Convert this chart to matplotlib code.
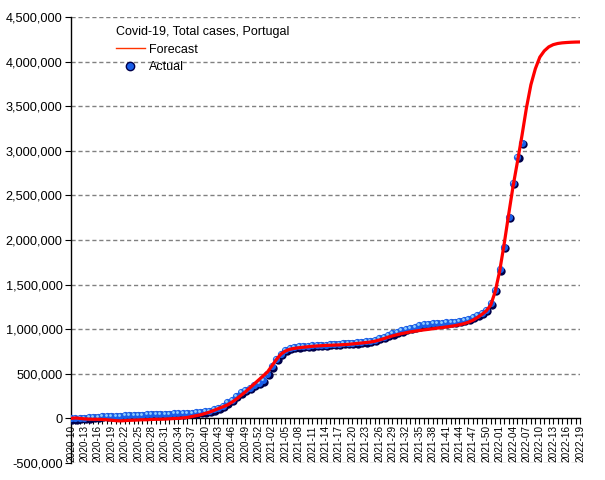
import numpy as np
import matplotlib
matplotlib.use("Agg")
import matplotlib.pyplot as plt
from matplotlib.lines import Line2D
from matplotlib.transforms import offset_copy

plt.rcParams['font.family'] = ['Liberation Sans', 'DejaVu Sans']

# ISO weeks 2020-10 .. 2022-19
weeks = ([f"2020-{w:02d}" for w in range(10, 54)] +
         [f"2021-{w:02d}" for w in range(1, 53)] +
         [f"2022-{w:02d}" for w in range(1, 20)])

# actual total cases (thousands), 2020-10 .. 2022-06
actual = [0, 0, 2, 6, 12, 17, 21, 24, 26, 28,
          29, 31, 33, 35, 37, 40, 42, 44, 47, 49,
          51, 52, 54, 55, 56, 57, 59, 63, 68, 73,
          78, 86, 100, 121, 144, 179, 211, 256, 291, 319,
          344, 372, 397, 427, 497, 582, 669, 726, 765, 786,
          799, 807, 812, 816, 819, 822, 825, 828, 832, 836,
          839, 842, 846, 849, 852, 858, 864, 872, 883, 898,
          915, 934, 953, 969, 986, 1000, 1016, 1030, 1043, 1054,
          1060, 1066, 1070, 1074, 1077, 1081, 1086, 1093, 1103, 1117,
          1135, 1158, 1185, 1214, 1290, 1440, 1670, 1920, 2260, 2640,
          2930, 3090]

# forecast total cases (thousands), 2020-10 .. 2022-19
forecast = [0, 5, 0, -5, -8, -10, -10, -12, -15, -20,
            -25, -28, -25, -22, -20, -18, -15, -15, -12, -10,
            -10, -8, -5, -2, 0, 5, 10, 20, 30, 40,
            55, 70, 90, 110, 130, 150, 180, 215, 255, 295,
            340, 385, 430, 475, 520, 590, 660, 720, 755, 775,
            785, 792, 798, 803, 808, 812, 815, 818, 820, 822,
            824, 827, 830, 835, 840, 845, 850, 856, 865, 878,
            893, 910, 925, 938, 950, 960, 970, 978, 985, 992,
            998, 1005, 1012, 1018, 1025, 1032, 1040, 1050, 1062, 1078,
            1100, 1130, 1165, 1205, 1270, 1420, 1650, 1950, 2280, 2600,
            2880, 3170, 3480, 3740, 3920, 4050, 4120, 4165, 4190, 4203,
            4210, 4214, 4217, 4219, 4220]

x_f = np.arange(len(forecast))
x_a = np.arange(len(actual))
y_f = np.array(forecast) * 1000
y_a = np.array(actual) * 1000

fig = plt.figure(figsize=(6.05, 4.8), dpi=100)
ax = fig.add_axes([71/605, 1 - 463/480, (580 - 71)/605, (463 - 17)/480])

ax.spines['top'].set_visible(False)
ax.spines['right'].set_visible(False)
ax.spines['bottom'].set_position(('data', 0))
ax.spines['bottom'].set_linewidth(1)
ax.spines['left'].set_linewidth(1)

# ball-like markers: shadow, body, highlight
shadow = offset_copy(ax.transData, fig=fig, x=1.2, y=-1.2, units='dots')
light = offset_copy(ax.transData, fig=fig, x=-1, y=1, units='dots')
ax.plot(x_a, y_a, 'o', ms=6, color='#00004a', mec='none', transform=shadow, zorder=3)
ax.plot(x_a, y_a, 'o', ms=5.2, color='#1a5ee8', mec='none', zorder=4)
ax.plot(x_a, y_a, 'o', ms=2, color='#8fd0ff', mec='none', transform=light, zorder=5)

ax.plot(x_f, y_f, color='#ff0000', lw=2.3, zorder=6)

ax.set_xlim(0, len(weeks) - 1)
ax.set_ylim(-500000, 4500000)

yt = np.arange(-500000, 4500001, 500000)
ax.set_yticks(yt)
ax.set_yticklabels([f"{v:,}" for v in yt], fontsize=9.2)
for v in yt:
    if v != 0:
        ax.axhline(v, color='#808080', lw=1, ls=(0, (3, 2)), zorder=1)

ax.set_xticks(x_f)
ax.set_xticklabels([w if i % 3 == 0 else "" for i, w in enumerate(weeks)],
                   rotation=90, fontsize=7.2)
ax.tick_params(axis='x', length=4, width=0.8, pad=1)
ax.tick_params(axis='y', length=4, width=0.8, pad=2)

handles = [Line2D([], [], color='#ff3300', lw=1),
           Line2D([], [], ls='none', marker='o', ms=6, color='#1a5ee8', mec='#00004a')]
leg = ax.legend(handles, ['Forecast', 'Actual'], title='Covid-19, Total cases, Portugal',
                loc='upper left', bbox_to_anchor=(116/605, 1 - 26/480),
                bbox_transform=fig.transFigure, frameon=False, fontsize=9,
                title_fontsize=9, alignment='left', borderpad=0, borderaxespad=0,
                handlelength=2.3, handletextpad=0.3, labelspacing=0.45)

fig.savefig("out.png", dpi=100)
